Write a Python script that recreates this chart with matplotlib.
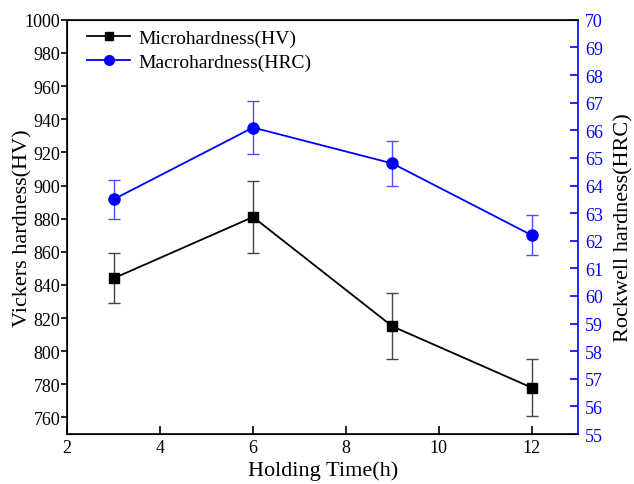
import matplotlib.pyplot as plt
from matplotlib.lines import Line2D
import numpy as np

plt.rcParams['font.family'] = ['Liberation Serif', 'DejaVu Serif']

# data
hours = [3, 6, 9, 12]
micro_hv = [844, 881, 815, 778]
micro_err = [15, 22, 20, 17]
macro_hrc = [63.5, 66.1, 64.8, 62.2]
macro_err = [0.7, 0.96, 0.8, 0.72]

fig = plt.figure(figsize=(6.34, 4.85), dpi=100)
ax = fig.add_axes([0.106, 0.103, 0.806, 0.854])
ax2 = ax.twinx()

ax.errorbar(hours, micro_hv, yerr=micro_err, color='black', ecolor='#444444',
            elinewidth=1, capsize=4, capthick=1, lw=1.3, marker='s', ms=7)
ax2.errorbar(hours, macro_hrc, yerr=macro_err, color='blue', ecolor='#4d4dff',
             elinewidth=1, capsize=4, capthick=1, lw=1.3, marker='o', ms=8)

ax.set_xlim(2, 13)
ax.set_ylim(750, 1000)
ax2.set_ylim(55, 70)
ax.set_xticks([2, 4, 6, 8, 10, 12])
ax.set_yticks(np.arange(760, 1001, 20))
ax2.set_yticks(np.arange(55, 71, 1))

ax.tick_params(axis='x', direction='in', labelsize=13, length=6, width=1.2)
ax.tick_params(axis='y', direction='out', labelsize=13, length=4, width=1.2,
               pad=1, right=False)
ax2.tick_params(direction='in', labelsize=13, length=6, width=1.2,
                colors='blue', pad=5)
for s in ['left', 'top', 'bottom']:
    ax.spines[s].set_linewidth(1.2)
ax2.spines['right'].set_color('blue')
ax2.spines['right'].set_linewidth(1.2)
ax.spines['right'].set_visible(False)

ax.set_xlabel('Holding Time(h)', fontsize=16, labelpad=3)
ax.set_ylabel('Vickers hardness(HV)', fontsize=16, labelpad=-6)
ax2.set_ylabel('Rockwell hardness(HRC)', fontsize=16, labelpad=8)

handles = [Line2D([], [], color='black', lw=1.3, marker='s', ms=6),
           Line2D([], [], color='blue', lw=1.3, marker='o', ms=7)]
labels = ['Microhardness(HV)', 'Macrohardness(HRC)']
ax.legend(handles, labels, loc='upper left', bbox_to_anchor=(0.013, 1.01),
          frameon=False, fontsize=14, handlelength=2.2, borderaxespad=0.3,
          labelspacing=0.3, handletextpad=0.4)

fig.savefig('out.png', dpi=100)
